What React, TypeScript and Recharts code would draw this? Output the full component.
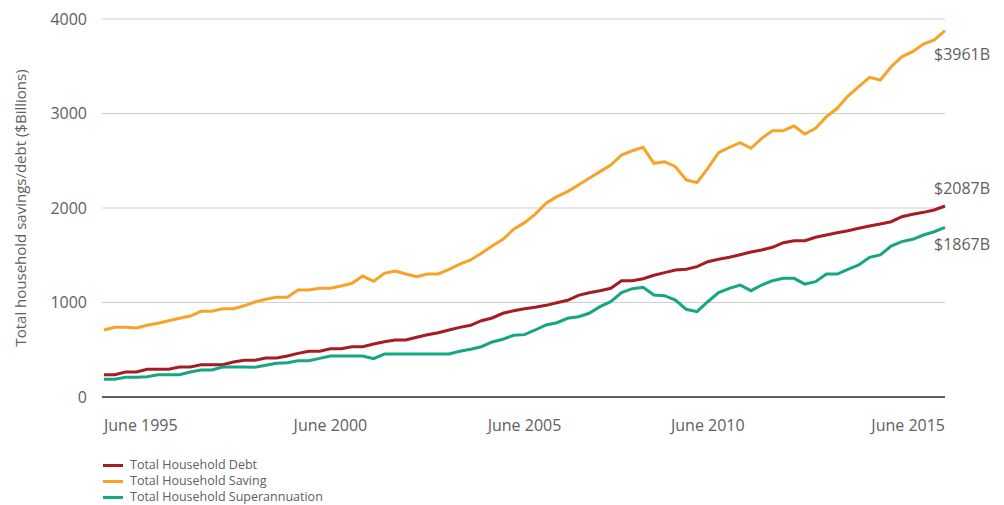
import { LineChart, Line, XAxis, YAxis, CartesianGrid, LabelList, Label } from "recharts";

// quarterly points, June 1995 onwards
const saving = [
  709, 738, 738, 730, 759, 780, 807, 833, 857, 907, 907, 934, 934, 965, 1005, 1034,
  1055, 1055, 1132, 1132, 1150, 1150, 1175, 1203, 1280, 1224, 1309, 1333, 1302, 1273,
  1302, 1302, 1351, 1407, 1450, 1520, 1598, 1669, 1775, 1845, 1936, 2050, 2120, 2173,
  2243, 2314, 2385, 2455, 2561, 2606, 2642, 2473, 2490, 2437, 2296, 2268, 2420, 2585,
  2642, 2691, 2632, 2737, 2818, 2818, 2868, 2783, 2843, 2966, 3055, 3185, 3284, 3383,
  3354, 3495, 3601, 3654, 3735, 3778, 3876,
];
const debt = [
  236, 236, 265, 265, 293, 293, 293, 317, 317, 342, 342, 342, 370, 388, 390, 413,
  413, 434, 462, 484, 484, 511, 511, 532, 532, 561, 585, 603, 603, 632, 659, 680,
  709, 737, 759, 807, 836, 886, 913, 934, 949, 970, 998, 1023, 1076, 1104, 1125, 1150,
  1231, 1231, 1252, 1288, 1316, 1344, 1351, 1379, 1432, 1457, 1478, 1506, 1534, 1556,
  1584, 1633, 1654, 1654, 1690, 1714, 1739, 1760, 1785, 1809, 1831, 1855, 1908, 1933,
  1954, 1979, 2021,
];
const superann = [
  187, 187, 208, 208, 215, 236, 236, 236, 265, 286, 286, 317, 317, 317, 315, 335,
  356, 363, 384, 384, 409, 434, 434, 434, 434, 405, 455, 455, 455, 455, 455, 455,
  455, 484, 505, 532, 582, 611, 653, 660, 709, 762, 786, 833, 850, 886, 956, 1009,
  1104, 1146, 1161, 1079, 1072, 1026, 928, 903, 1008, 1104, 1150, 1185, 1125, 1185,
  1231, 1256, 1256, 1195, 1220, 1301, 1301, 1351, 1397, 1478, 1503, 1598, 1644, 1669,
  1714, 1749, 1796,
];

const xTickIdx = [0, 21, 39, 56, 78];
const xTickLabels = ["June 1995", "June 2000", "June 2005", "June 2010", "June 2015"];
const yTicks = [0, 1000, 2000, 3000, 4000];
const seriesNames = ["Total Household Debt", "Total Household Saving", "Total Household Superannuation"];
const endLabels = ["$2087B", "$3961B", "$1867B"];

const COLORS = ["#a51c22", "#f7a229", "#16a681"];
const TEXT = "#606060";
const FONT = "'Open Sans', sans-serif";

const data = debt.map((d, i) => ({ i, debt: d, saving: saving[i], superann: superann[i] }));
const last = data.length - 1;

function XTick(props: any) {
  const { x, y, payload, index } = props;
  const anchor = index === 0 ? "start" : index === xTickIdx.length - 1 ? "end" : "middle";
  const label = xTickLabels[xTickIdx.indexOf(payload.value)];
  return (
    <text x={x} y={y} dy="0.35em" textAnchor={anchor} fontSize={16} fill={TEXT} fontFamily={FONT}>
      {label}
    </text>
  );
}

const endLabel = (text: string, dy: number) => (props: any) => {
  if (props.index !== last) return null;
  const x = props.x ?? props.viewBox?.x;
  const y = props.y ?? props.viewBox?.y;
  return (
    <text x={x - 11} y={y + dy} dy="0.35em" fontSize={16} fill={TEXT} fontFamily={FONT}>
      {text}
    </text>
  );
};

function YTitle(props: any) {
  const vb = props.viewBox || { x: 42, y: 19, height: 378 };
  const cx = vb.x - 22;
  const cy = vb.y + vb.height / 2;
  return (
    <text
      x={cx}
      y={cy}
      transform={`rotate(-90 ${cx} ${cy})`}
      textAnchor="middle"
      dominantBaseline="central"
      fontSize={15}
      fill={TEXT}
      fontFamily={FONT}
    >
      Total household savings/debt ($Billions)
    </text>
  );
}

export default function App() {
  return (
    <div style={{ position: "absolute", left: 0, top: 0, width: 1004, height: 505, background: "#fff", fontFamily: FONT }}>
      <LineChart width={1004} height={505} data={data} margin={{ top: 19, right: 59, bottom: 78, left: 42 }}>
        <CartesianGrid vertical={false} stroke="#cfcfcf" strokeWidth={1.2} />
        <XAxis
          dataKey="i"
          type="number"
          domain={[0, last]}
          ticks={xTickIdx}
          interval={0}
          tick={<XTick />}
          tickLine={false}
          tickSize={0}
          tickMargin={28}
          height={30}
          padding={{ left: 2, right: 0 }}
          axisLine={{ stroke: "#333", strokeWidth: 1.6 }}
        />
        <YAxis
          domain={[0, 4000]}
          ticks={yTicks}
          width={60}
          axisLine={false}
          tickLine={false}
          tickSize={0}
          tickMargin={15}
          tick={{ fontSize: 16, fill: TEXT, fontFamily: FONT }}
        >
          <Label content={<YTitle />} />
        </YAxis>
        <Line type="linear" dataKey="saving" stroke={COLORS[1]} strokeWidth={3} dot={false} isAnimationActive={false}>
          <LabelList dataKey="saving" content={endLabel(endLabels[1], 24)} />
        </Line>
        <Line type="linear" dataKey="debt" stroke={COLORS[0]} strokeWidth={3} dot={false} isAnimationActive={false}>
          <LabelList dataKey="debt" content={endLabel(endLabels[0], -18)} />
        </Line>
        <Line type="linear" dataKey="superann" stroke={COLORS[2]} strokeWidth={3} dot={false} isAnimationActive={false}>
          <LabelList dataKey="superann" content={endLabel(endLabels[2], 17)} />
        </Line>
      </LineChart>
      <div style={{ position: "absolute", left: 103, top: 457, fontSize: 12.5, color: TEXT, lineHeight: "16px" }}>
        {seriesNames.map((name, k) => (
          <div key={name} style={{ display: "flex", alignItems: "center", height: 16 }}>
            <span style={{ display: "inline-block", width: 20, height: 3, background: COLORS[k], marginRight: 7 }} />
            <span>{name}</span>
          </div>
        ))}
      </div>
    </div>
  );
}
